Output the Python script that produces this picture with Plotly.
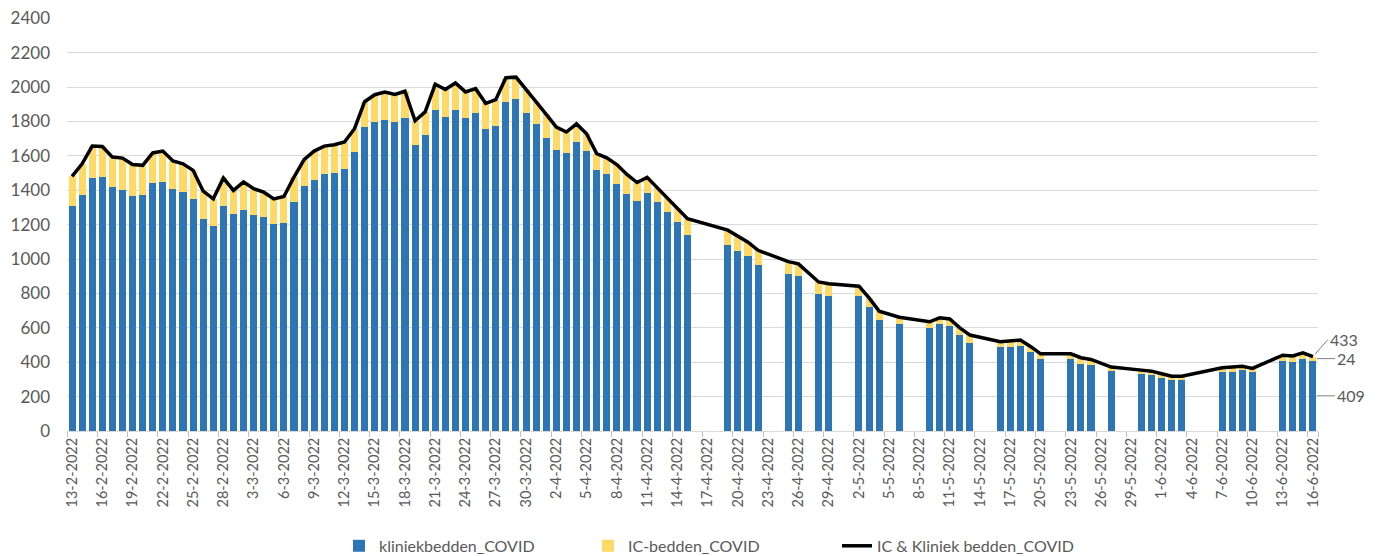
import pandas as pd
import plotly.graph_objects as go

# ---- data ----
dates = pd.date_range("2022-02-13", "2022-06-16", freq="D")
categories = [f"{d.day}-{d.month}-{d.year}" for d in dates]

N = None
kliniekbedden = [
    1306, 1370, 1471, 1475, 1418, 1401, 1366, 1374, 1442, 1451, 1407, 1389, 1350, 1232, 1191, 1310,  # 13-2 .. 28-2
    1261, 1286, 1255, 1245, 1205, 1212, 1331, 1424, 1457, 1496, 1502, 1525, 1620, 1768, 1795, 1808,  # 1-3 .. 16-3
    1800, 1821, 1662, 1721, 1867, 1829, 1867, 1823, 1851, 1756, 1774, 1913, 1929, 1851, 1786,        # 17-3 .. 31-3
    1706, 1632, 1618, 1682, 1630, 1517, 1496, 1436, 1378, 1337, 1384, 1329, 1274, 1216, 1138,        # 1-4 .. 15-4
    N, N, N, 1080, 1047, 1018, 968, N, N, 914, 904, N, 798, 786, N,                                 # 16-4 .. 30-4
    N, 784, 720, 643, N, 625, N, N, 600, 620, 608, 558, 513, N, N, 488, 490, 496, 461, 416,          # 1-5 .. 20-5
    N, N, 416, 387, 383, N, 348, N, N, 329, 327,                                                     # 21-5 .. 31-5
    310, 296, 298, N, N, N, 343, 345, 352, 343, N, N, 410, 403, 420, 409,                            # 1-6 .. 16-6
]
ic_bedden = [
    175, 184, 186, 180, 175, 186, 184, 171, 175, 177, 163, 165, 166, 163, 159, 161,
    138, 162, 154, 144, 145, 152, 146, 154, 171, 161, 163, 156, 138, 147, 161, 163,
    157, 155, 142, 135, 150, 157, 157, 149, 140, 150, 153, 142, 129, 138, 128,
    136, 135, 121, 104, 99, 96, 93, 114, 114, 108, 91, 85, 82, 82, 97,
    N, N, N, 88, 86, 80, 83, N, N, 71, 68, N, 69, 70, N,
    N, 58, 54, 54, N, 37, N, N, 35, 38, 44, 42, 45, N, N, 31, 33, 33, 31, 33,
    N, N, 33, 39, 33, N, 24, N, N, 25, 21,
    23, 23, 21, N, N, N, 25, 27, 24, 21, N, N, 31, 33, 35, 24,
]
totaal = [k + i if k is not None and i is not None else None
          for k, i in zip(kliniekbedden, ic_bedden)]

y_ticks = list(range(0, 2401, 200))
x_ticks = categories[::3]

BLUE = "#2E75B6"
YELLOW = "#FFD966"
GREY = "#595959"
FONT = "Lato"

fig = go.Figure()
fig.add_trace(go.Bar(x=categories, y=kliniekbedden, name="kliniekbedden_COVID",
                     marker=dict(color=BLUE, line=dict(width=0))))
fig.add_trace(go.Bar(x=categories, y=ic_bedden, name="IC-bedden_COVID",
                     marker=dict(color=YELLOW, line=dict(width=0))))
fig.add_trace(go.Scatter(x=categories, y=totaal, name="IC & Kliniek bedden_COVID",
                         mode="lines", connectgaps=True,
                         line=dict(color="black", width=3.5)))

last = categories[-1]
k_last = kliniekbedden[-1]
i_last = ic_bedden[-1]
t_last = totaal[-1]
ann_style = dict(showarrow=True, arrowhead=0, arrowwidth=1, arrowcolor="#7f7f7f",
                 font=dict(family=FONT, size=16, color=GREY), xanchor="left")
fig.add_annotation(x=last, y=t_last, text=str(t_last), ax=15, ay=-17, standoff=3, **ann_style)
fig.add_annotation(x=last, y=k_last + i_last / 2, text=str(i_last), ax=22, ay=0, standoff=4, **ann_style)
fig.add_annotation(x=last, y=k_last / 2, text=str(k_last), ax=22, ay=0, standoff=4, **ann_style)

n = len(categories)
# the page body adds an 8 px offset; margins below compensate for it
fig.update_layout(
    barmode="stack",
    bargap=0.3,
    width=1380, height=556,
    margin=dict(l=59, r=70, t=10, b=133, autoexpand=False),
    plot_bgcolor="white", paper_bgcolor="white",
    font=dict(family=FONT, color=GREY),
    showlegend=True,
    legend=dict(orientation="h", x=(331 - 59) / 1251, xanchor="left", y=-0.237, yanchor="top",
                font=dict(family=FONT, size=16, color=GREY), entrywidth=204,
                traceorder="normal"),
)
fig.update_xaxes(type="category", range=[-0.5, n - 0.5], autorange=False, automargin=False,
                 tickmode="array", tickvals=x_ticks, ticktext=x_ticks,
                 tickangle=-90, tickfont=dict(size=14.5, color=GREY, family=FONT),
                 ticks="outside", ticklen=5, tickcolor="#bfbfbf", tickson="boundaries",
                 showline=True, linecolor="#d9d9d9", linewidth=1, showgrid=False)
fig.update_yaxes(range=[0, 2402], autorange=False, automargin=False, tickvals=y_ticks,
                 tickfont=dict(size=17, color=GREY, family=FONT), ticklabeloverflow="allow",
                 showgrid=True, gridcolor="#d9d9d9", gridwidth=1, zeroline=False,
                 showline=False, ticks="", ticklabelstandoff=16)

fig.write_html("out.html")
